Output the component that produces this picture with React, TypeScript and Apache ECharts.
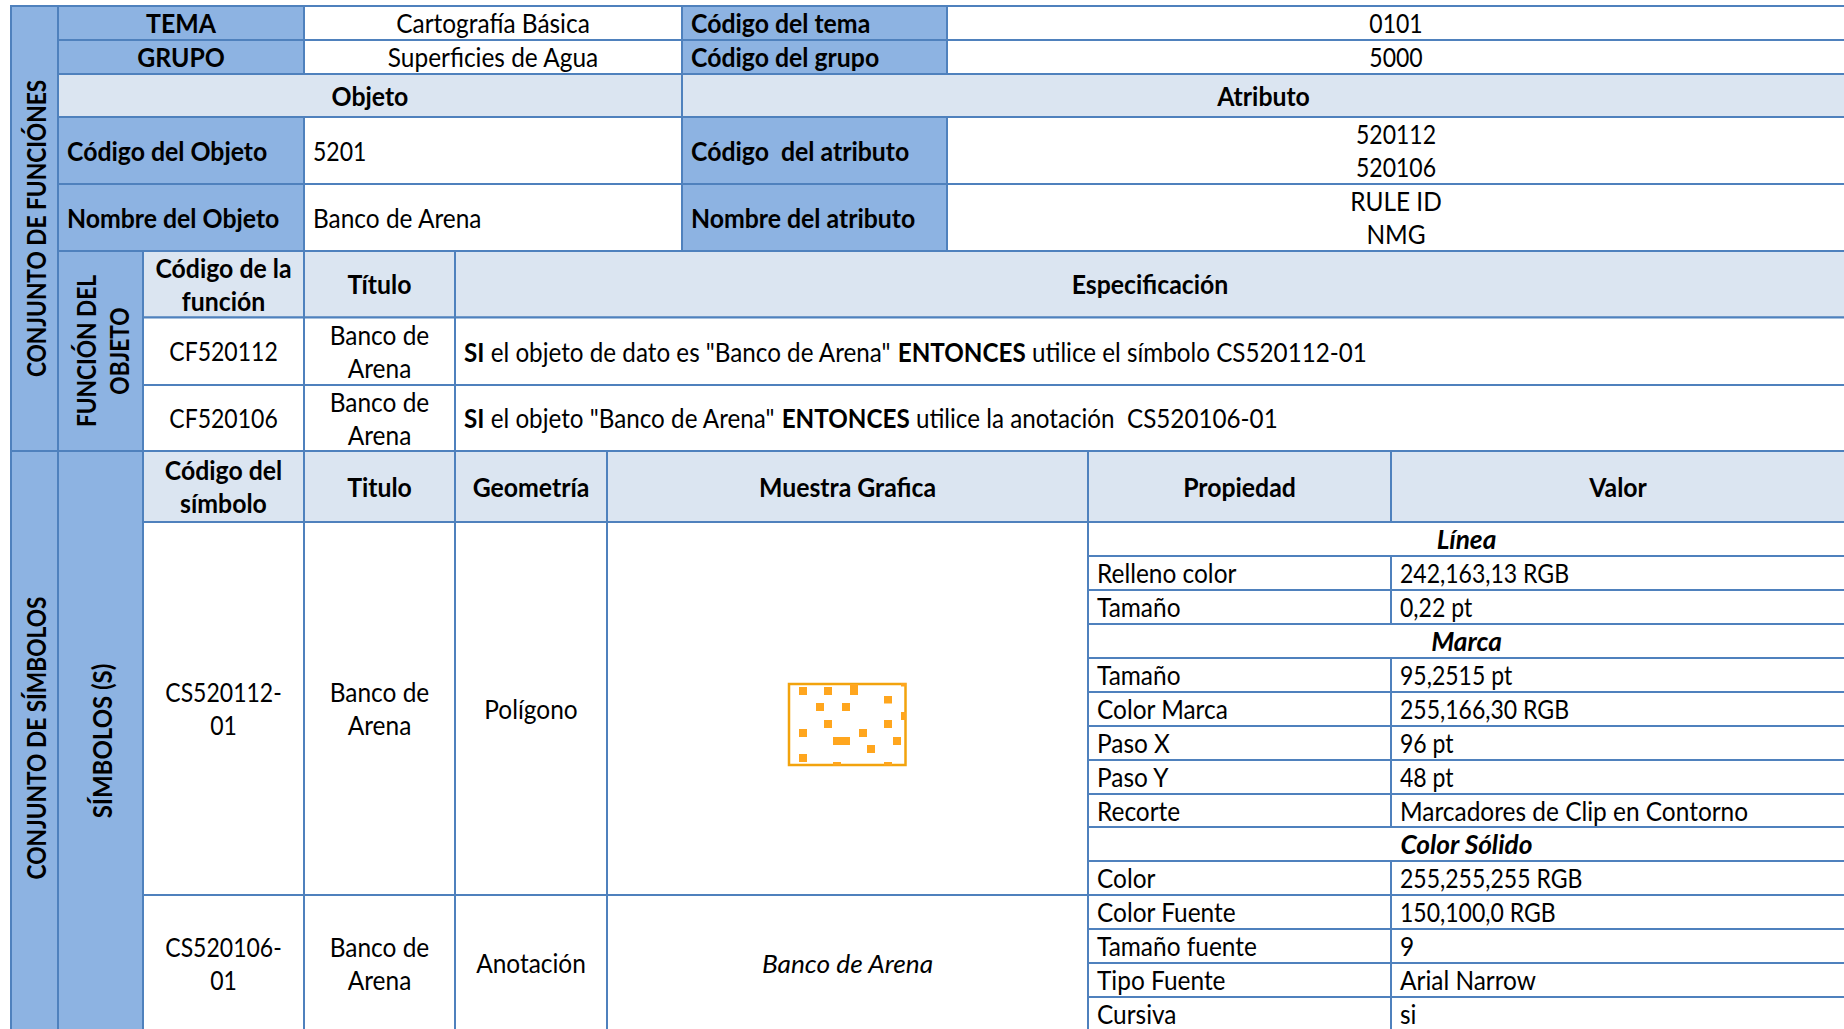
import React, { useEffect, useRef } from "react";
import * as echarts from "echarts";

// Table geometry (axis units)
const columnEdges = [11, 58, 143, 304, 455, 607, 682, 947, 1088, 1391, 1845];
const rowEdges = [6, 40, 74, 117, 184, 251, 317.5, 385, 451, 522, 556, 590, 624, 658, 692, 726, 760, 794, 827, 861, 895, 929, 963, 997, 1031];

// Texts
const sideLabels = ["CONJUNTO DE FUNCIÓNES", "CONJUNTO DE SÍMBOLOS", "FUNCIÓN DEL\nOBJETO", "SÍMBOLOS (S)"];
const sideStretch = [0.84, 0.84, 0.84, 0.889];
const sideShift = [0, -3, 0, 0];
const themeRow = ["TEMA", "Cartografía Básica", "Código del tema", "0101"];
const groupRow = ["GRUPO", "Superficies de Agua", "Código del grupo", "5000"];
const sectionRow = ["Objeto", "Atributo"];
const codeRow = ["Código del Objeto", "5201", "Código  del atributo", "520112\n520106"];
const nameRow = ["Nombre del Objeto", "Banco de Arena", "Nombre del atributo", "RULE ID\nNMG"];
const functionHeader = ["Código de la\nfunción", "Título", "Especificación"];
const functionRowA = ["CF520112", "Banco de\nArena", '{b|SI} el objeto de dato es "Banco de Arena" {b|ENTONCES} utilice el símbolo CS520112-01'];
const functionRowB = ["CF520106", "Banco de\nArena", '{b|SI} el objeto "Banco de Arena" {b|ENTONCES} utilice la anotación  CS520106-01'];
const symbolHeader = ["Código del\nsímbolo", "Titulo", "Geometría", "Muestra Grafica", "Propiedad", "Valor"];
const symbolRowA = ["CS520112-\n01", "Banco de\nArena", "Polígono", ""];
const symbolRowB = ["CS520106-\n01", "Banco de\nArena", "Anotación", "Banco de Arena"];
const propertyNames = ["Relleno color", "Tamaño", "Tamaño", "Color Marca", "Paso X", "Paso Y", "Recorte", "Color", "Color Fuente", "Tamaño fuente", "Tipo Fuente", "Cursiva"];
const propertyValues = ["242,163,13 RGB", "0,22 pt", "95,2515 pt", "255,166,30 RGB", "96 pt", "48 pt", "Marcadores de Clip en Contorno", "255,255,255 RGB", "150,100,0 RGB", "9", "Arial Narrow", "si"];
const propertyGroups = ["Línea", "Marca", "Color Sólido"];

// Sample symbol: frame and marker squares, in axis units
const symbolFrame = [789, 684, 905.5, 765];
const symbolMarks = [
  [799, 687, 8, 8], [824, 687, 8, 8], [850, 684, 8, 11], [884, 696, 8, 7.5], [816, 703, 8, 8], [842, 703, 8, 8],
  [824, 720, 8, 8], [884, 720, 8, 8], [799, 729, 8, 8], [859, 729, 8, 8], [833, 737, 17, 8], [893, 737, 8, 8],
  [867, 745, 8, 8], [799, 754, 8, 8], [833, 762, 8, 3.5], [884, 762, 8, 3.5], [901, 712, 5, 8], [901, 683, 5, 3.5],
];

const LINE = "#4F81BD";
const DARK = "#8DB3E2";
const LIGHT = "#DBE5F1";
const FONT = "Lato";
const FS = 26;
const SIDE_FS = 27;
const SX = 0.94;
const SX_BOLD = 0.955;
const SX_ITALIC = 1.01;
const SX_DIGITS = 0.885;
const SX_SENTENCE = 0.932;

type Kind = "side" | "darkC" | "darkL" | "lightC" | "plainC" | "plainL" | "groupC" | "italicC";
type Cell = { c: [number, number]; r: [number, number]; kind: Kind; text: string; side?: number };
const cells: Cell[] = [];
const add = (c0: number, c1: number, r0: number, r1: number, kind: Kind, text: string, side?: number) => cells.push({ c: [c0, c1], r: [r0, r1], kind, text, side });

add(0, 1, 0, 8, "side", sideLabels[0], 0);
add(0, 1, 8, 24, "side", sideLabels[1], 1);
add(1, 2, 5, 8, "side", sideLabels[2], 2);
add(1, 2, 8, 24, "side", sideLabels[3], 3);
[themeRow, groupRow].forEach((row, i) => {
  add(1, 3, i, i + 1, "darkC", row[0]);
  add(3, 6, i, i + 1, "plainC", row[1]);
  add(6, 7, i, i + 1, "darkL", row[2]);
  add(7, 10, i, i + 1, "plainC", row[3]);
});
add(1, 6, 2, 3, "lightC", sectionRow[0]);
add(6, 10, 2, 3, "lightC", sectionRow[1]);
[codeRow, nameRow].forEach((row, i) => {
  add(1, 3, 3 + i, 4 + i, "darkL", row[0]);
  add(3, 6, 3 + i, 4 + i, "plainL", row[1]);
  add(6, 7, 3 + i, 4 + i, "darkL", row[2]);
  add(7, 10, 3 + i, 4 + i, "plainC", row[3]);
});
add(2, 3, 5, 6, "lightC", functionHeader[0]);
add(3, 4, 5, 6, "lightC", functionHeader[1]);
add(4, 10, 5, 6, "lightC", functionHeader[2]);
[functionRowA, functionRowB].forEach((row, i) => {
  add(2, 3, 6 + i, 7 + i, "plainC", row[0]);
  add(3, 4, 6 + i, 7 + i, "plainC", row[1]);
  add(4, 10, 6 + i, 7 + i, "plainL", row[2]);
});
[[2, 3], [3, 4], [4, 5], [5, 8], [8, 9], [9, 10]].forEach(([a, b], i) => add(a, b, 8, 9, "lightC", symbolHeader[i]));
[[symbolRowA, 9, 20], [symbolRowB, 20, 24]].forEach(([row, r0, r1]: any, k) => {
  add(2, 3, r0, r1, "plainC", row[0]);
  add(3, 4, r0, r1, "plainC", row[1]);
  add(4, 5, r0, r1, "plainC", row[2]);
  add(5, 8, r0, r1, k ? "italicC" : "plainC", row[3]);
});
add(8, 10, 9, 10, "groupC", propertyGroups[0]);
add(8, 10, 12, 13, "groupC", propertyGroups[1]);
add(8, 10, 18, 19, "groupC", propertyGroups[2]);
const propertyRows = [10, 11, 13, 14, 15, 16, 17, 19, 20, 21, 22, 23];
propertyRows.forEach((r, i) => {
  add(8, 9, r, r + 1, "plainL", propertyNames[i]);
  add(9, 10, r, r + 1, "plainL", propertyValues[i]);
});

const cellData = cells.map((cell, i) => [columnEdges[cell.c[0]], rowEdges[cell.r[0]], columnEdges[cell.c[1]], rowEdges[cell.r[1]], i]);

const stretchFor = (cell: Cell) => {
  const k = cell.kind;
  if (k === "groupC" || k === "italicC") return SX_ITALIC;
  if (k === "plainL" && cell.text.startsWith("{b|")) return SX_SENTENCE;
  if (k === "plainC" || k === "plainL") return /\d\d/.test(cell.text) ? SX_DIGITS : SX;
  return SX_BOLD;
};

const renderCell = (_: any, api: any) => {
  const p0 = api.coord([api.value(0), api.value(1)]);
  const p1 = api.coord([api.value(2), api.value(3)]);
  const cell = cells[api.value(4)];
  const k = cell.kind;
  const fill = k === "side" || k === "darkC" || k === "darkL" ? DARK : k === "lightC" ? LIGHT : "#FFFFFF";
  const bold = k === "side" || k === "darkC" || k === "darkL" || k === "lightC" || k === "groupC";
  const italic = k === "groupC" || k === "italicC";
  const left = k === "darkL" || k === "plainL";
  const cx = (p0[0] + p1[0]) / 2;
  const cy = (p0[1] + p1[1]) / 2;
  const fs = k === "side" ? SIDE_FS : FS;
  const style: any = {
    text: cell.text,
    fill: "#000000",
    fontFamily: FONT,
    fontSize: fs,
    fontWeight: bold ? "bold" : "normal",
    fontStyle: italic ? "italic" : "normal",
    align: k === "side" || !left ? "center" : "left",
    verticalAlign: "middle",
    lineHeight: 33,
    rich: { b: { fontFamily: FONT, fontSize: FS, fontWeight: "bold", fill: "#000000", lineHeight: 33 } },
  };
  const text: any =
    k === "side"
      ? { type: "text", x: cx + 1, y: cy + sideShift[cell.side!], rotation: Math.PI / 2, scaleX: sideStretch[cell.side!], style }
      : { type: "text", x: left ? p0[0] + 9 : cx, y: cy, scaleX: stretchFor(cell), style };
  return {
    type: "group",
    children: [
      { type: "rect", shape: { x: p0[0], y: p0[1], width: p1[0] - p0[0], height: p1[1] - p0[1] }, style: { fill, stroke: LINE, lineWidth: 2 } },
      ...(cell.text ? [text] : []),
    ],
  };
};

const renderMark = (_: any, api: any) => {
  const p = api.coord([api.value(0), api.value(1)]);
  const q = api.coord([api.value(0) + api.value(2), api.value(1) + api.value(3)]);
  return { type: "rect", shape: { x: p[0], y: p[1], width: q[0] - p[0], height: q[1] - p[1] }, style: { fill: "rgb(255,166,30)" } };
};

const renderFrame = (_: any, api: any) => {
  const p = api.coord([api.value(0), api.value(1)]);
  const q = api.coord([api.value(2), api.value(3)]);
  return { type: "rect", shape: { x: p[0], y: p[1], width: q[0] - p[0], height: q[1] - p[1] }, style: { fill: "none", stroke: "rgb(242,163,13)", lineWidth: 2.5 } };
};

export default function App() {
  const ref = useRef<HTMLDivElement>(null);
  useEffect(() => {
    const chart = echarts.init(ref.current!, undefined, { renderer: "svg" });
    chart.setOption({
      animation: false,
      backgroundColor: "#FFFFFF",
      grid: { left: 0, right: 0, top: 0, bottom: 0, containLabel: false },
      xAxis: { type: "value", min: 0, max: 1844, show: false },
      yAxis: { type: "value", min: 0, max: 1029, inverse: true, show: false },
      tooltip: { show: false },
      series: [
        { type: "custom", silent: true, clip: false, coordinateSystem: "cartesian2d", data: cellData, encode: { x: [0, 2], y: [1, 3] }, renderItem: renderCell, z: 1 },
        { type: "custom", silent: true, clip: false, coordinateSystem: "cartesian2d", data: [symbolFrame], encode: { x: [0, 2], y: [1, 3] }, renderItem: renderFrame, z: 2 },
        { type: "custom", silent: true, clip: false, coordinateSystem: "cartesian2d", data: symbolMarks, encode: { x: 0, y: 1 }, renderItem: renderMark, z: 3 },
      ],
    });
    return () => chart.dispose();
  }, []);
  return <div ref={ref} style={{ position: "absolute", left: 0, top: 0, width: 1844, height: 1029, overflow: "hidden" }} />;
}
